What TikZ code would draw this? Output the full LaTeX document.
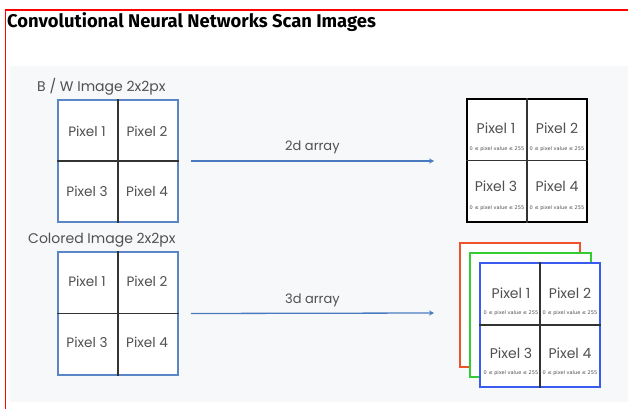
\documentclass[tikz,border=0pt]{standalone}
\usepackage{fontspec}
\setmainfont{Poppins}
\newfontfamily\titlefont{Fira Sans}
\newfontfamily\tinyfont{DejaVu Sans}
\definecolor{panel}{HTML}{F7F8F9}
\definecolor{boxblue}{HTML}{5A86C6}
\definecolor{arrblue}{HTML}{4A7BBF}
\definecolor{txt}{HTML}{505050}
\definecolor{innerc}{HTML}{333333}
\definecolor{sred}{HTML}{F0522E}
\definecolor{sgreen}{HTML}{33CC33}
\definecolor{sblue}{HTML}{3A5CEE}
\usetikzlibrary{arrows.meta}
\tikzset{
  gridbox/.style={draw, fill=white, line width=1.6pt, minimum width=120pt, minimum height=122pt, inner sep=0pt},
  innerline/.style={draw=innerc, line width=1.1pt},
  pix/.style={text=txt, font=\fontsize{13.6}{15}\selectfont, inner sep=0pt},
  bigpix/.style={text=txt, font=\fontsize{14}{15}\selectfont, inner sep=0pt},
  tinytxt/.style={text=txt, font=\tinyfont\fontsize{5}{6}\selectfont, inner sep=0pt},
  lbl/.style={text=txt, font=\fontsize{14}{15}\selectfont, inner sep=0pt},
  arrlbl/.style={text=txt, font=\fontsize{13}{15}\selectfont, inner sep=0pt},
  arr/.style={draw=arrblue, line width=1.3pt, -{Stealth[length=5pt,width=5pt]}},
}
\begin{document}
\begin{tikzpicture}[x=1pt,y=-1pt]
\useasboundingbox (0,0) rectangle (628,409);
\fill[white] (0,0) rectangle (628,409);
\fill[panel] (10,66) rectangle (628,402);
\draw[red, line width=1.5pt] (5.5,409) -- (5.5,10) -- (628,10);
\node[anchor=west, inner sep=0pt, font=\titlefont\bfseries\fontsize{18.4}{20}\selectfont] (title) at (7,22) {Convolutional Neural Networks Scan Images};

% B/W image
\node[lbl, anchor=west] (bwlabel) at (37,87) {B / W Image 2x2px};
\node[gridbox, draw=boxblue] (bw) at (118,161) {};
\draw[innerline] (bw.north) -- (bw.south);
\draw[innerline] (bw.west) -- (bw.east);
\node[pix] (bw1) at (87,131) {Pixel 1};
\node[pix] (bw2) at (147,131) {Pixel 2};
\node[pix] (bw3) at (87,191) {Pixel 3};
\node[pix] (bw4) at (147,191) {Pixel 4};

% Colored image
\node[lbl, anchor=west] (collabel) at (28,240) {Colored Image 2x2px};
\node[gridbox, draw=boxblue, minimum height=123pt] (col) at (118,313.5) {};
\draw[innerline] (col.north) -- (col.south);
\draw[innerline] (col.west) -- (col.east);
\node[pix] (col1) at (87,281) {Pixel 1};
\node[pix] (col2) at (147,281) {Pixel 2};
\node[pix] (col3) at (87,342) {Pixel 3};
\node[pix] (col4) at (147,342) {Pixel 4};

% 2d array grid
\node[gridbox, draw=black, minimum height=123pt] (g2) at (527,160.5) {};
\draw[innerline] (g2.north) -- (g2.south);
\draw[innerline] (g2.west) -- (g2.east);
\node[bigpix] (g21) at (496,128) {Pixel 1};
\node[bigpix] (g22) at (557,128) {Pixel 2};
\node[bigpix] (g23) at (496,186) {Pixel 3};
\node[bigpix] (g24) at (557,186) {Pixel 4};
\node[tinytxt] (g21t) at (497,149) {0 ≤ pixel value ≤ 255};
\node[tinytxt] (g22t) at (557,149) {0 ≤ pixel value ≤ 255};
\node[tinytxt] (g23t) at (497,208) {0 ≤ pixel value ≤ 255};
\node[tinytxt] (g24t) at (557,208) {0 ≤ pixel value ≤ 255};

% 3d array stack
\node[gridbox, draw=sred, minimum height=124pt] (sr) at (520,305) {};
\node[gridbox, draw=sgreen, minimum width=121pt, minimum height=124pt] (sg) at (530.5,315) {};
\node[gridbox, draw=sblue, minimum height=124pt] (sb) at (540,325) {};
\draw[innerline] (sb.north) -- (sb.south);
\draw[innerline] (sb.west) -- (sb.east);
\node[bigpix] (sb1) at (511,293) {Pixel 1};
\node[bigpix] (sb2) at (570,293) {Pixel 2};
\node[bigpix] (sb3) at (511,353) {Pixel 3};
\node[bigpix] (sb4) at (570,353) {Pixel 4};
\node[tinytxt] (sb1t) at (511,313) {0 ≤ pixel value ≤ 255};
\node[tinytxt] (sb2t) at (570,313) {0 ≤ pixel value ≤ 255};
\node[tinytxt] (sb3t) at (511,373) {0 ≤ pixel value ≤ 255};
\node[tinytxt] (sb4t) at (570,373) {0 ≤ pixel value ≤ 255};

% arrows
\coordinate (a1end) at (434,161);
\coordinate (a2end) at (434,313);
\draw[arr] ([xshift=12pt]bw.east) -- node[above=6pt, arrlbl] (a1lbl) {2d array} (a1end);
\draw[arr] ([xshift=12pt]col.east) -- node[above=6pt, arrlbl] (a2lbl) {3d array} (a2end);
\end{tikzpicture}
\end{document}
